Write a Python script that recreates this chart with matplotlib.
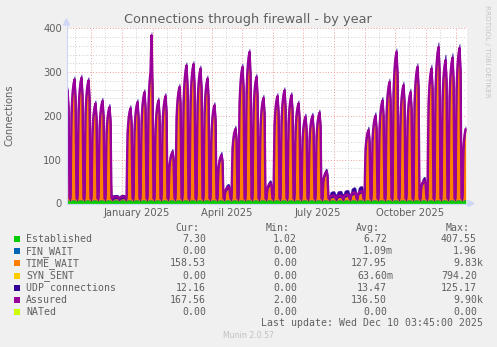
import numpy as np
import pandas as pd
import matplotlib
matplotlib.use("Agg")
import matplotlib.pyplot as plt
import matplotlib.dates as mdates
from matplotlib.patches import Rectangle, Polygon

# ---- data -----------------------------------------------------------------
week_start = "2024-11-04"          # Monday of the first plotted week
last_day = "2025-12-10"

# weekday peak of assured connections, one value per week
assured_peak = [258, 283, 287, 281, 228, 234, 220, 15, 15,
                217, 231, 254, 312, 235, 245, 117, 266, 315, 318, 308, 285, 224, 110, 37,
                170, 312, 346, 289, 241, 45, 245, 258, 247, 228, 198, 200, 207, 72,
                18, 18, 20, 25, 28, 167, 200, 235, 277, 346, 270, 254, 312, 52,
                308, 357, 327, 333, 355, 175]
# single busy days
assured_spikes = {"2025-01-30": 384}
# share of the weekly peak reached on each weekday (Mon..Sun)
weekday_shape = [0.72, 0.88, 0.96, 1.00, 0.86, 0.0, 0.0]
quiet_level = 11

established_by_weekday = [8.3, 8.5, 8.5, 8.3, 8.0, 6.0, 5.8]
udp_week = [12, 12, 12, 12, 12, 12, 12, 9, 9,
            12, 12, 12, 12, 12, 12, 12, 12, 12, 12, 12, 12, 12, 12, 12,
            12, 12, 12, 12, 12, 12, 12, 12, 12, 12, 12, 12, 12, 12,
            14, 15, 15, 16, 16, 13, 13, 13, 13, 13, 13, 13, 13, 13,
            14, 16, 18, 15, 14, 12]

series_names = ["Established", "FIN_WAIT", "TIME_WAIT", "SYN_SENT",
                "UDP connections", "Assured", "NATed"]
series_colors = ["#00CC00", "#0066B3", "#FF8000", "#FFCC00",
                 "#330099", "#990099", "#CCFF00"]
cur_vals = ["7.30", "0.00", "158.53", "0.00", "12.16", "167.56", "0.00"]
min_vals = ["1.02", "0.00", "0.00", "0.00", "0.00", "2.00", "0.00"]
avg_vals = ["6.72", "1.09m", "127.95", "63.60m", "13.47", "136.50", "0.00"]
max_vals = ["407.55", "1.96", "9.83k", "794.20", "125.17", "9.90k", "0.00"]

month_labels = ["January 2025", "April 2025", "July 2025", "October 2025"]
month_label_dates = ["2025-01-16", "2025-04-16", "2025-07-16", "2025-10-16"]
y_ticks = [0, 100, 200, 300, 400]

# ---- build the daily series ----------------------------------------------
days = pd.date_range(week_start, last_day, freq="D")
wk = np.arange(len(days)) // 7
dow = days.dayofweek.values
peak = np.array(assured_peak, float)[wk]
assured = quiet_level + (peak - quiet_level) * np.array(weekday_shape)[dow]
for d, v in assured_spikes.items():
    assured[days.get_loc(pd.Timestamp(d))] = v
established = np.array(established_by_weekday)[dow]
udp = np.array(udp_week, float)[wk]
time_wait = np.clip(assured - established - 4, 1, None)
zeros = np.zeros(len(days))
x = mdates.date2num(days.values) + 0.5

# ---- figure ---------------------------------------------------------------
W, H = 497, 347
def fx(px):
    return px / W
def fy(py):
    return 1 - py / H

FONT = "#606060"
AXIS = "#CFD6F8"
fig = plt.figure(figsize=(W / 100, H / 100), dpi=100, facecolor="#F0F0F0")
ax = fig.add_axes([fx(67), fy(203.3), 400 / W, 175 / H])
ax.set_facecolor("white")
x0 = mdates.date2num(pd.Timestamp("2024-11-07"))
ax.set_xlim(x0, x0 + 400)
ax.set_ylim(0, 400)
for s in ax.spines.values():
    s.set_visible(False)

# grid
dots = (0, (1.2, 2.2))
for v in range(20, 401, 20):
    major = v % 100 == 0
    ax.axhline(v, color="#F09090" if major else "#C8C8C8", lw=0.6,
               ls=dots, zorder=0.5)
for m in pd.date_range("2024-11-01", "2025-12-31", freq="MS"):
    ax.axvline(mdates.date2num(m), color="#F09090", lw=0.6, ls=dots, zorder=0.5)
    ax.axvline(mdates.date2num(m + pd.Timedelta(days=14)), color="#C8C8C8",
               lw=0.6, ls=dots, zorder=0.5)

# stacked areas
layers = [established, zeros, time_wait, zeros, udp]
base = zeros.copy()
for vals, col in zip(layers, series_colors[:5]):
    top = base + vals
    ax.fill_between(x, base, top, color=col, lw=0.3, edgecolor=col, zorder=2)
    base = top
ax.plot(x, assured, color=series_colors[5], lw=1.7, zorder=3)
ax.plot(x, zeros, color=series_colors[6], lw=0.72, zorder=3)

# ticks
ax.set_yticks(y_ticks)
ax.set_yticklabels([str(v) for v in y_ticks])
ax.set_xticks([mdates.date2num(pd.Timestamp(d)) for d in month_label_dates])
ax.set_xticklabels(month_labels)
ax.tick_params(axis="both", length=0, labelsize=7.2, colors=FONT)
ax.tick_params(axis="y", pad=3.6)
ax.tick_params(axis="x", pad=3.2)

# axes with arrows
fig.add_artist(plt.Line2D([fx(66.5), fx(66.5)], [fy(203.5), fy(24)],
                          color=AXIS, lw=0.8))
fig.add_artist(plt.Line2D([fx(66.5), fx(469)], [fy(203.5), fy(203.5)],
                          color=AXIS, lw=0.8))
fig.add_artist(Polygon([[fx(63.5), fy(25)], [fx(69.5), fy(25)], [fx(66.5), fy(19)]],
                       closed=True, color=AXIS))
fig.add_artist(Polygon([[fx(468), fy(200.5)], [fx(468), fy(206.5)], [fx(474), fy(203.5)]],
                       closed=True, color=AXIS))

# titles
fig.text(fx(248), fy(19), "Connections through firewall - by year",
         ha="center", va="center", fontsize=9.3, color=FONT)
fig.text(fx(10), fy(115), "Connections", rotation=90, ha="center",
         va="center", fontsize=7.2, color=FONT)
fig.text(fx(487), fy(5), "RRDTOOL / TOBI OETIKER", rotation=270, ha="center",
         va="top", fontsize=5.2, color="#C4C4C4")

# legend
mono = "DejaVu Sans Mono"
lfs = 7.1
cw = 6.0
col_ends = [206, 297, 387, 477]
for hdr, xe in zip(["Cur:", "Min:", "Avg:", "Max:"], col_ends):
    fig.text(fx(xe - 7), fy(227.7), hdr, ha="right", va="center",
             family=mono, fontsize=lfs, color=FONT)
row_y = [239.3 + 12.07 * i for i in range(len(series_names))]
for name, col, yy, c, mn, av, mx in zip(series_names, series_colors, row_y,
                                        cur_vals, min_vals, avg_vals, max_vals):
    fig.add_artist(Rectangle((fx(14), fy(yy + 3)), 6 / W, 6 / H,
                             facecolor=col, edgecolor="none"))
    fig.text(fx(26), fy(yy), name, ha="left", va="center",
             family=mono, fontsize=lfs, color=FONT)
    for val, xe in zip([c, mn, av, mx], col_ends):
        xr = xe + cw if val[-1].isalpha() else xe
        fig.text(fx(xr), fy(yy), val, ha="right", va="center",
                 family=mono, fontsize=lfs, color=FONT)
fig.text(fx(483), fy(323.5), "Last update: Wed Dec 10 03:45:00 2025",
         ha="right", va="center", family=mono, fontsize=lfs, color=FONT)
fig.text(fx(248), fy(336), "Munin 2.0.57", ha="center", va="center",
         fontsize=5.6, color="#C0C0C0")

fig.savefig("out.png", dpi=100, facecolor=fig.get_facecolor())
